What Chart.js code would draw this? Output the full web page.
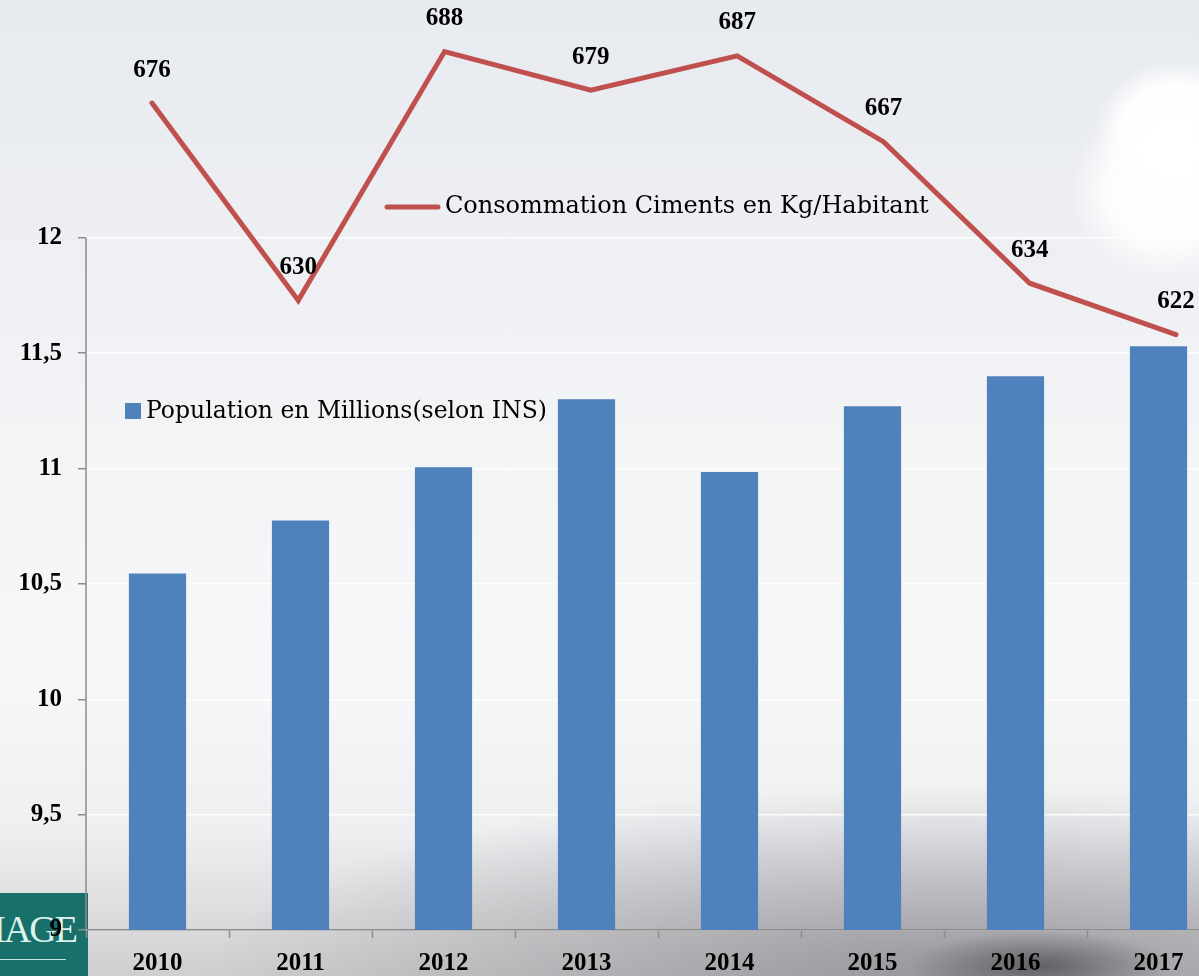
<!DOCTYPE html>
<html>
<head>
<meta charset="utf-8">
<script src="https://cdn.jsdelivr.net/npm/chart.js@4.4.1/dist/chart.umd.min.js"></script>
<style>
    html, body {
        margin: 0;
        padding: 0;
        width: 1199px;
        height: 976px;
        overflow: hidden;
    }
    body {
        position: relative;
        background:
            radial-gradient(ellipse 130px 35px at 1040px 966px, rgba(55, 55, 60, 0.6), rgba(55, 55, 60, 0) 100%),
            radial-gradient(ellipse 750px 190px at 950px 976px, rgba(120, 120, 126, 0.65), rgba(120, 120, 126, 0) 100%),
            radial-gradient(ellipse 80px 70px at 1175px 130px, rgba(255, 255, 255, 1) 0%, rgba(255, 255, 255, 0.95) 65%, rgba(255, 255, 255, 0) 100%),
            radial-gradient(ellipse 95px 90px at 1165px 190px, rgba(255, 255, 255, 0.95) 0%, rgba(255, 255, 255, 0.85) 60%, rgba(255, 255, 255, 0) 100%),
            linear-gradient(to bottom, #e7eaef 0%, #eceef2 20%, #f3f4f6 45%, #f6f7f8 70%, #eeeff1 85%, #dadadc 95%, #cfcfd1 100%);
    }
    .logo {
        position: absolute;
        left: 0;
        top: 893px;
        width: 88px;
        height: 83px;
        background: #19706a;
        overflow: hidden;
    }
    .logo span {
        position: absolute;
        right: 12px;
        top: 17px;
        font-family: "Liberation Serif", serif;
        font-size: 38px;
        line-height: 38px;
        color: #dff3ee;
        letter-spacing: -2px;
    }
    .logo i {
        position: absolute;
        left: 0;
        top: 66px;
        width: 66px;
        height: 1px;
        background: #bfe3dc;
    }
    .wrap {
        position: absolute;
        left: 0;
        top: 0;
        width: 1230px;
        height: 976px;
    }
</style>
</head>
<body>
<div class="logo"><span>IAGE</span><i></i></div>
<div class="wrap"><canvas id="mixChart" width="1230" height="976"></canvas></div>
<script>
// Data
const years = ['2010', '2011', '2012', '2013', '2014', '2015', '2016', '2017'];
const population = [10.545, 10.775, 11.005, 11.30, 10.985, 11.27, 11.40, 11.53];
const consommation = [676, 630, 688, 679, 687, 667, 634, 622];
const popLabel = 'Population en Millions(selon INS)';
const consoLabel = 'Consommation Ciments en Kg/Habitant';

const barColor = '#4f81bd';
const lineColor = '#c0504d';
const axisColor = '#8c8c8c';
const boldFont = { family: '"Liberation Serif", "Times New Roman", serif', size: 25, weight: 'bold' };

// no extra padding from the tick labels, the plot area is placed by hand
function noPadding(scale) {
    scale.paddingTop = 0;
    scale.paddingBottom = 0;
    scale.paddingLeft = 0;
    scale.paddingRight = 0;
}

// axis line + value labels + the two floating legends
const overlay = {
    id: 'overlay',
    afterDatasetsDraw(chart) {
        const ctx = chart.ctx;
        const y = chart.scales.y;
        const area = chart.chartArea;

        // left axis line only from 12 down
        ctx.save();
        ctx.strokeStyle = axisColor;
        ctx.lineWidth = 1.5;
        ctx.beginPath();
        ctx.moveTo(area.left, y.getPixelForValue(12));
        ctx.lineTo(area.left, area.bottom);
        ctx.stroke();

        // values above the line points
        const meta = chart.getDatasetMeta(1);
        ctx.fillStyle = '#000';
        ctx.font = 'bold 25px "Liberation Serif", serif';
        ctx.textAlign = 'center';
        ctx.textBaseline = 'middle';
        meta.data.forEach((pt, i) => {
            ctx.fillText(consommation[i], pt.x, pt.y - 33);
        });

        // legend for the line
        ctx.strokeStyle = lineColor;
        ctx.lineWidth = 5;
        ctx.lineCap = 'round';
        ctx.beginPath();
        ctx.moveTo(387, 207);
        ctx.lineTo(438, 207);
        ctx.stroke();
        ctx.font = '24px "DejaVu Serif", serif';
        ctx.textAlign = 'left';
        ctx.fillText(consoLabel, 445, 207);

        // legend for the bars
        ctx.fillStyle = barColor;
        ctx.fillRect(125, 403, 16, 16);
        ctx.fillStyle = '#000';
        ctx.font = '23.5px "DejaVu Serif", serif';
        ctx.fillText(popLabel, 146, 412);
        ctx.restore();
    }
};

const ctx = document.getElementById('mixChart').getContext('2d');
new Chart(ctx, {
    type: 'bar',
    data: {
        labels: years,
        datasets: [
            {
                type: 'bar',
                label: popLabel,
                data: population,
                backgroundColor: barColor,
                grouped: false,
                barPercentage: 0.4,
                categoryPercentage: 1,
                xAxisID: 'x',
                yAxisID: 'y',
                order: 1
            },
            {
                type: 'line',
                label: consoLabel,
                data: consommation.map((v, i) => ({ x: i, y: v })),
                borderColor: lineColor,
                borderWidth: 5,
                borderCapStyle: 'round',
                borderJoinStyle: 'miter',
                pointRadius: 0,
                tension: 0,
                xAxisID: 'x2',
                yAxisID: 'y2',
                order: 0
            }
        ]
    },
    options: {
        responsive: false,
        devicePixelRatio: 1,
        animation: false,
        layout: { padding: { top: 7, left: 0, right: 0, bottom: 0 } },
        plugins: {
            legend: { display: false },
            tooltip: { enabled: false }
        },
        scales: {
            x: {
                type: 'category',
                offset: true,
                border: { color: axisColor, width: 1.5 },
                grid: {
                    offset: true,
                    drawOnChartArea: false,
                    drawTicks: true,
                    tickLength: 8,
                    tickColor: axisColor,
                    tickWidth: 1.5
                },
                ticks: { color: '#000', font: boldFont, padding: 11, maxRotation: 0 },
                afterFit: (scale) => { scale.height = 46; noPadding(scale); }
            },
            // the line sits on its own, slightly wider x axis (as in the original)
            x2: {
                type: 'linear',
                display: false,
                offset: false,
                grid: { offset: false },
                min: -0.451,
                max: 7.369
            },
            y: {
                type: 'linear',
                position: 'left',
                min: 9,
                max: 13,
                border: { display: false },
                grid: {
                    color: 'rgba(255, 255, 255, 0.85)',
                    lineWidth: 1.5,
                    tickLength: 8,
                    tickColor: axisColor,
                    tickWidth: 1.5
                },
                ticks: {
                    stepSize: 0.5,
                    color: '#000',
                    font: boldFont,
                    padding: 16,
                    callback: (v) => String(v).replace('.', ',')
                },
                afterBuildTicks: (scale) => {
                    scale.ticks = scale.ticks.filter(t => t.value <= 12);
                },
                afterFit: (scale) => { scale.width = 86; noPadding(scale); }
            },
            y2: {
                type: 'linear',
                display: false,
                min: 483.2,
                max: 698.4
            }
        }
    },
    plugins: [overlay]
});
</script>
</body>
</html>
